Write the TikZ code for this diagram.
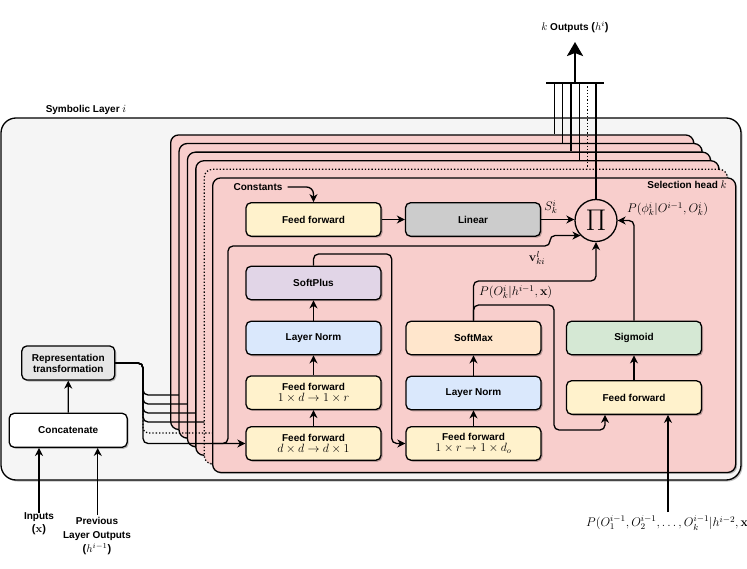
\RequirePackage{fix-cm}
\documentclass[tikz,border=0pt]{standalone}
\usepackage[no-math]{fontspec}
\setmainfont{Liberation Sans}
\usetikzlibrary{arrows.meta,shadows,calc}
\definecolor{bgc}{HTML}{F5F5F5}
\definecolor{layc}{HTML}{F8CECC}
\definecolor{ffc}{HTML}{FFF2CC}
\definecolor{linc}{HTML}{CCCCCC}
\definecolor{spc}{HTML}{E1D5E7}
\definecolor{lnc}{HTML}{DAE8FC}
\definecolor{smc}{HTML}{FFE6CC}
\definecolor{sgc}{HTML}{D5E8D4}
\definecolor{rpc}{HTML}{E6E6E6}
\begin{document}
\begin{tikzpicture}[x=1pt,y=-1pt,
  shad/.style={drop shadow={shadow xshift=1.5pt,shadow yshift=-1.5pt,opacity=0.25,fill=black}},
  box/.style={draw,line width=1.3pt,rounded corners=5pt,minimum width=135pt,minimum height=33.5pt,align=center,font=\fontsize{10}{12}\selectfont\bfseries,shad,inner sep=1pt},
  layerbox/.style={draw,line width=1.3pt,rounded corners=8pt,fill=layc,shad,anchor=north west,minimum width=523pt,minimum height=294.5pt,inner sep=0pt},
  conn/.style={line width=1.3pt,rounded corners=5pt},
  arr/.style={conn,-{Stealth[length=8pt,width=8pt,inset=2.5pt]}},
  lbl/.style={font=\fontsize{10}{12}\selectfont\bfseries,inner sep=0pt,align=center},
  mlbl/.style={font=\fontsize{12.5}{15}\selectfont,inner sep=0pt}
]
\useasboundingbox (0,0) rectangle (747,569);
% outer frame
\path[draw,fill=bgc,line width=1.3pt,rounded corners=15pt,shad] (1,118) rectangle (741,480);
\node[lbl] (title) at (86,110) {Symbolic Layer {\fontsize{11}{12}\selectfont$i$}};
% left boxes
\node[box,fill=rpc,minimum width=93pt,minimum height=34pt] (rep) at (68.3,363) {Representation\\[-1pt]transformation};
\node[box,fill=white,minimum width=118pt,minimum height=34pt] (cat) at (68.2,430.3) {Concatenate};
\draw[arr] (cat.north) -- (rep.south);
\coordinate (inx) at (39,513);
\coordinate (inh) at (97.7,515);
\draw[arr] (inx) -- (inx |- cat.south);
\draw[arr] (inh) -- (inh |- cat.south);
\node[lbl] (inlbl) at (39,524) {Inputs\\[1pt]{\fontsize{11}{12}\selectfont($\mathbf{x}$)}};
\node[lbl] (prevlbl) at (97,536.5) {Previous\\[2pt]Layer Outputs\\[2pt]{\fontsize{11}{12}\selectfont($h^{i-1}$)}};
% output bar
\coordinate (barl) at (546,83);
\coordinate (barr) at (604,83);
\coordinate (barc) at (575,83);
\coordinate (outtip) at (575,42);
\draw[line width=1.3pt] (barl) -- (barr);
\draw[line width=2.6pt,-{Stealth[length=14pt,width=16pt,inset=3pt]}] (barc) -- (outtip);
\node[lbl] (outlbl) at (575,27) {{\fontsize{11}{12}\selectfont$k$} Outputs {\fontsize{11}{12}\selectfont($h^i$)}};
% stacked layers
\foreach \i/\ox/\by in {0/554.3/395,1/562.7/404,2/571/413,3/579.3/422} {
  \node[layerbox] (L\i) at ({170+8.4*\i},{134.3+8.6*\i}) {};
  \draw[conn] (rep.east) -- (143,363) -- (143,\by) -- ({170+8.4*\i+25},\by);
  \coordinate (o\i) at (\ox,83);
  \draw[line width=1.3pt] (o\i) -- (o\i |- L\i.north);
}
\node[layerbox,dotted] (L4) at (203.6,168.7) {};
\draw[conn,dotted] (rep.east) -- (143,363) -- (143,433) -- (230,433);
\coordinate (o4) at (587.7,83);
\draw[line width=1.3pt,dotted] (o4) -- (o4 |- L4.north);
% front layer
\node[layerbox] (L5) at (212,177.3) {};
\node[lbl,anchor=east] (sh) at (727,185) {Selection head {\fontsize{11}{12}\selectfont$k$}};
\node[lbl] (const) at (258,187) {Constants};
\node[box,fill=ffc] (ff1) at (313.5,219.5) {Feed forward};
\node[box,fill=linc] (lin) at (473,219.5) {Linear};
\node[circle,draw,line width=1.3pt,minimum size=42pt,inner sep=0pt,font=\fontsize{30}{30}\selectfont] (pi) at (596,220.5) {$\Pi$};
\node[box,fill=spc] (sp) at (313.5,283) {SoftPlus};
\node[box,fill=lnc] (ln1) at (313.5,338) {Layer Norm};
\node[box,fill=ffc] (ff2) at (313.5,392.7) {Feed forward\\[-1pt]{\fontsize{12}{14}\selectfont $1\times d\to 1\times r$}};
\node[box,fill=ffc] (ff3) at (313.5,443.5) {Feed forward\\[-1pt]{\fontsize{12}{14}\selectfont $d\times d\to d\times 1$}};
\node[box,fill=smc] (sm) at (473.5,338) {SoftMax};
\node[box,fill=lnc] (ln2) at (473.5,393) {Layer Norm};
\node[box,fill=ffc] (ff4) at (473.5,443.5) {Feed forward\\[-1pt]{\fontsize{12}{14}\selectfont $1\times r\to 1\times d_o$}};
\node[box,fill=sgc] (sg) at (634,338) {Sigmoid};
\node[box,fill=ffc] (ff5) at (634,397.5) {Feed forward};
% connectors
\draw[arr,rounded corners=7pt] ([xshift=5pt]const.east) -| (ff1.north);
\draw[arr] (ff1.east) -- (lin.west);
\draw[arr] (lin.east) -- (lin.east -| pi.west);
\node[mlbl] (slbl) at (551,207) {$S_k^i$};
\draw[arr] (ff3.north) -- (ff2.south);
\draw[arr] (ff2.north) -- (ln1.south);
\draw[arr] (ln1.north) -- (sp.south);
\draw[arr] (ff4.north) -- (ln2.south);
\draw[arr] (ln2.north) -- (sm.south);
\draw[arr] (ff5.north) -- (sg.south);
\draw[arr] (sp.north) -- (313.5,254) -- (391.7,254) -- (391.7,443.5) -- (ff4.west);
\draw[arr] (rep.east) -- (143,363) -- (143,443.5) -- (ff3.west);
\coordinate (vj) at (550,0);
\draw[arr] (212,443.5) -- (228,443.5) -- (228,246) -- (550,246) -- (vj |- pi.224) -- (pi.224);
\node[mlbl] (vlbl) at (537,258) {$\mathbf{v}_{ki}^l$};
\draw[arr] (sm.north) -- (473.5,281) -| (pi.south);
\node[mlbl,anchor=west] (polbl) at (479,292) {$P(O_k^i|h^{i-1},\mathbf{x})$};
\coordinate (ffin) at (605,430);
\draw[arr] (sm.north) -- (473.5,305) -- (554,305) -- (554,430) -- (ffin) -- (ffin |- ff5.south);
\draw[arr] (sg.north) |- (pi.east);
\node[mlbl,anchor=west] (phlbl) at (627,209) {$P(\phi_k^i|O^{i-1},O_k^i)$};
\coordinate (pin) at (668,512);
\draw[arr] (pin) -- (pin |- ff5.south);
\node[mlbl,anchor=west] (botlbl) at (586,523) {$P(O_1^{i-1},O_2^{i-1},\ldots,O_k^{i-1}|h^{i-2},\mathbf{x})$};
\draw[line width=1.3pt] (pi.north) -- (pi.north |- barc);
\end{tikzpicture}
\end{document}
